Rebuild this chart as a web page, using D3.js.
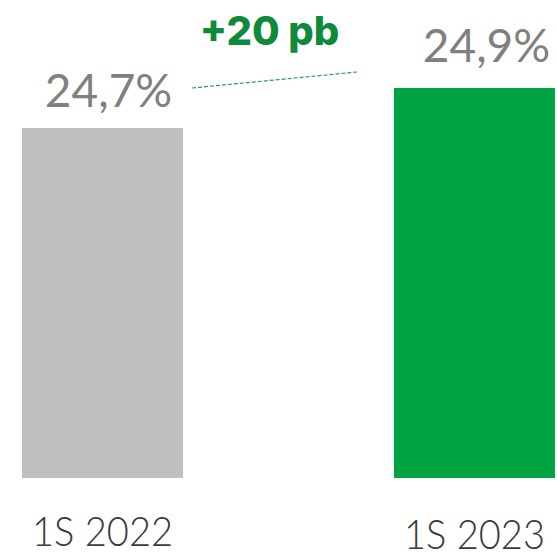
<!DOCTYPE html>
<html><head><meta charset="utf-8">
<script src="https://cdn.jsdelivr.net/npm/d3@7"></script>
<style>html,body{margin:0;padding:0;background:#fff;}svg{display:block;}</style>
</head><body>
<svg id="c" width="557" height="552"></svg>
<script>
const categories = ["1S 2022", "1S 2023"];
const values = [24.7, 24.9];
const valueLabels = ["24,7%", "24,9%"];
const deltaLabel = "+20 pb";
const colors = ["#bfbfbf", "#00a443"];

const svg = d3.select("#c");
const x = d3.scaleBand().domain(categories).range([22, 555]).paddingInner(0.567).paddingOuter(0);
const y = d3.scaleLinear().domain([22.95, 24.9]).range([478, 88]);
const font = "Lato, 'Open Sans', sans-serif";

svg.selectAll("rect.bar").data(values).join("rect")
  .attr("class","bar")
  .attr("x",(d,i)=>x(categories[i]))
  .attr("width",x.bandwidth())
  .attr("y",d=>y(d))
  .attr("height",d=>y.range()[0]-y(d))
  .attr("fill",(d,i)=>colors[i]);

svg.selectAll("text.val").data(values).join("text")
  .attr("class","val")
  .attr("x",(d,i)=>x(categories[i])+x.bandwidth()/2+[6,12][i])
  .attr("y",(d,i)=>y(d)-[21,26][i])
  .attr("text-anchor","middle")
  .attr("font-family",font).attr("font-weight",400)
  .attr("font-size",46).attr("fill","#808080")
  .text((d,i)=>valueLabels[i]);

svg.selectAll("text.cat").data(categories).join("text")
  .attr("class","cat")
  .attr("x",d=>x(d)+x.bandwidth()/2)
  .attr("y",(d,i)=>[546,549][i])
  .attr("text-anchor","middle")
  .attr("font-family",font).attr("font-weight",300)
  .attr("font-size",42).attr("fill","#3a3a3a")
  .attr("textLength",141).attr("lengthAdjust","spacingAndGlyphs")
  .text(d=>d);

// connector
const x0 = x(categories[0])+x.bandwidth()+9, x1 = x(categories[1])-37;
svg.append("line")
  .attr("x1",x0).attr("y1",y(values[0])-40)
  .attr("x2",x1).attr("y2",y(values[1])-16)
  .attr("stroke","#2e9e50").attr("stroke-width",1.2).attr("stroke-dasharray","4,2");

svg.append("text")
  .attr("x",(x0+x1)/2-5).attr("y",45)
  .attr("text-anchor","middle")
  .attr("font-family","Inter, 'Open Sans', sans-serif").attr("font-weight",800)
  .attr("font-size",40).attr("fill","#0f8a3a")
  .text(deltaLabel);
</script>
</body></html>
